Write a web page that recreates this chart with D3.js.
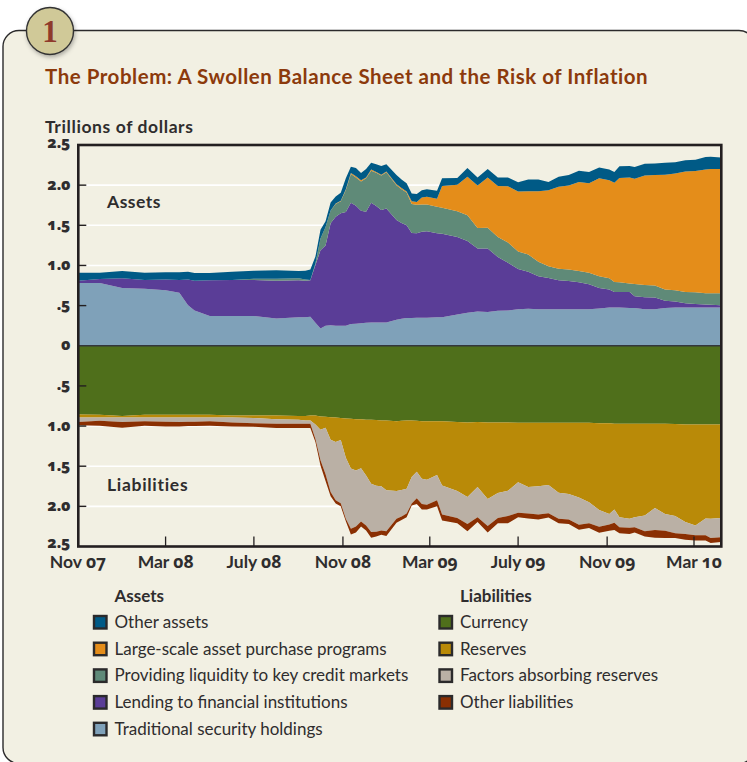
<!DOCTYPE html>
<html><head><meta charset="utf-8">
<script src="https://cdn.jsdelivr.net/npm/d3@7"></script>
<style>
html,body{margin:0;padding:0;background:#fff}
svg{display:block}
text{font-family:Lato,"Open Sans",sans-serif;fill:#2f2d2e}
tspan.n,text.n{font-family:"Open Sans",sans-serif;font-variant-numeric:oldstyle-nums;font-feature-settings:"onum" 1}
</style></head><body><div id="c"></div>
<script>
const dates=["2007-11-01","2007-12-01","2008-01-01","2008-02-01","2008-03-01","2008-03-20","2008-04-01","2008-04-10","2008-05-01","2008-06-01","2008-07-01","2008-08-01","2008-09-01","2008-09-10","2008-09-17","2008-09-24","2008-10-01","2008-10-08","2008-10-15","2008-10-22","2008-10-29","2008-11-05","2008-11-12","2008-11-19","2008-11-26","2008-12-03","2008-12-10","2008-12-17","2008-12-24","2008-12-31","2009-01-14","2009-01-21","2009-01-28","2009-02-04","2009-02-11","2009-02-18","2009-02-25","2009-03-11","2009-03-18","2009-04-08","2009-04-22","2009-05-06","2009-05-20","2009-06-03","2009-06-17","2009-07-01","2009-07-15","2009-07-29","2009-08-12","2009-08-26","2009-09-09","2009-09-23","2009-10-07","2009-10-21","2009-11-04","2009-11-11","2009-11-18","2009-12-02","2009-12-09","2009-12-23","2010-01-06","2010-01-20","2010-02-03","2010-02-17","2010-03-03","2010-03-17","2010-03-24","2010-04-07"];
const traditional=[.78,.78,.72,.71,.69,.66,.505,.44,.37,.37,.37,.34,.355,.355,.36,.285,.215,.25,.255,.25,.25,.25,.27,.275,.28,.285,.29,.29,.29,.29,.325,.335,.345,.345,.35,.35,.35,.355,.355,.39,.41,.425,.42,.435,.44,.455,.46,.455,.455,.455,.455,.455,.455,.465,.475,.475,.475,.47,.47,.455,.455,.47,.475,.475,.475,.475,.475,.475];
const lending=[.03,.05,.12,.11,.135,.16,.32,.37,.447,.45,.45,.47,.46,.455,.455,.72,.975,1.0,1.27,1.355,1.4,1.415,1.51,1.47,1.4,1.385,1.49,1.45,1.4,1.42,1.24,1.195,1.155,1.06,1.05,1.07,1.075,1.045,1.04,.965,.895,.785,.79,.67,.595,.5,.46,.41,.39,.36,.35,.335,.31,.255,.225,.195,.195,.2,.145,.15,.145,.09,.075,.055,.045,.04,.035,.03];
const liquidity=[0,0,0,0,0,0,0,0,0,0,.015,.025,.025,.015,.005,.02,.145,.23,.16,.16,.15,.275,.36,.35,.365,.415,.4,.415,.43,.45,.435,.42,.41,.36,.355,.34,.335,.33,.325,.32,.32,.255,.26,.25,.25,.22,.215,.18,.145,.145,.145,.14,.145,.145,.14,.125,.12,.105,.155,.15,.15,.14,.14,.14,.145,.14,.145,.15];
const purchases=[0,0,0,0,0,0,0,0,0,0,0,0,0,0,0,0,0,0,0,.005,.005,.01,.01,.015,.015,.01,.015,.01,.01,.01,.01,.015,.01,.035,.035,.085,.095,.1,.27,.33,.48,.53,.625,.635,.7,.745,.79,.88,.945,1.02,1.045,1.11,1.115,1.22,1.22,1.235,1.3,1.32,1.31,1.365,1.375,1.43,1.455,1.5,1.51,1.54,1.545,1.545];
const otherAssets=[.1,.08,.09,.09,.09,.095,.095,.095,.09,.1,.1,.105,.09,.11,.13,.085,.11,.07,.1,.09,.1,.135,.08,.105,.09,.105,.085,.095,.11,.09,.115,.105,.105,.095,.1,.09,.095,.1,.095,.085,.11,.1,.105,.105,.11,.115,.145,.145,.105,.125,.13,.14,.14,.135,.135,.135,.145,.145,.145,.145,.145,.15,.14,.14,.14,.155,.155,.145];
const currency=[.855,.86,.875,.86,.86,.86,.86,.86,.86,.87,.87,.87,.875,.875,.87,.87,.88,.885,.89,.895,.9,.905,.91,.915,.915,.92,.92,.925,.93,.93,.94,.935,.93,.93,.935,.94,.94,.94,.94,.95,.955,.95,.955,.955,.955,.96,.96,.96,.96,.96,.96,.96,.96,.965,.965,.97,.97,.97,.97,.97,.97,.97,.975,.98,.98,.98,.98,.98];
const reserves=[.04,.035,.02,.035,.035,.035,.035,.035,.035,.025,.03,.045,.045,.055,.06,.11,.165,.135,.28,.305,.275,.49,.62,.64,.61,.695,.8,.82,.82,.87,.87,.86,.85,.705,.635,.715,.73,.67,.8,.86,.93,.81,.955,.88,.85,.74,.8,.79,.775,.87,.885,.93,.99,1.08,1.13,1.07,1.165,1.185,1.165,1.145,1.05,1.125,1.145,1.215,1.26,1.17,1.175,1.165];
const absorbing=[.055,.04,.055,.045,.05,.055,.05,.05,.045,.06,.065,.055,.05,.04,.04,.18,.38,.58,.65,.725,.785,.76,.75,.695,.665,.625,.6,.57,.55,.51,.345,.33,.31,.33,.33,.315,.31,.315,.36,.335,.335,.375,.335,.31,.315,.38,.33,.35,.35,.325,.32,.34,.26,.21,.13,.165,.125,.11,.125,.195,.275,.21,.215,.15,.12,.21,.24,.24];
const otherLiab=[.04,.06,.07,.055,.06,.055,.055,.055,.055,.05,.045,.055,.055,.055,.055,.04,.065,.085,.055,.04,.04,.03,.07,.075,.06,.06,.07,.06,.055,.06,.05,.045,.045,.025,.07,.07,.06,.075,.075,.065,.09,.06,.08,.065,.09,.055,.06,.065,.055,.055,.055,.06,.06,.075,.08,.09,.075,.08,.065,.065,.095,.09,.06,.07,.065,.065,.06,.06];

const assetNames=["Other assets","Large-scale asset purchase programs","Providing liquidity to key credit markets","Lending to financial institutions","Traditional security holdings"];
const assetValues=[otherAssets,purchases,liquidity,lending,traditional];
const assetColors=["#005a86","#e48d1a","#5f8a78","#5a3d97","#7fa1b9"];
const liabNames=["Currency","Reserves","Factors absorbing reserves","Other liabilities"];
const liabValues=[currency,reserves,absorbing,otherLiab];
const liabColors=["#4f6f1b","#b98a08","#bab0a5","#8a2f02"];
const yTicks=[2.5,2,1.5,1,.5,0,-.5,-1,-1.5,-2,-2.5];
const xTicks=[["2007-11-01","Nov ","07"],["2008-03-01","Mar ","08"],["2008-07-01","July ","08"],["2008-11-01","Nov ","08"],["2009-03-01","Mar ","09"],["2009-07-01","July ","09"],["2009-11-01","Nov ","09"],["2010-03-01","Mar ","10"]];

const W=747,H=762,L=78.3,R=721.3,T=145,B=546.5;
const svg=d3.select("#c").append("svg").attr("width",W).attr("height",H);
const defs=svg.append("defs");
defs.append("clipPath").attr("id","plot").append("rect").attr("x",L).attr("y",T).attr("width",R-L).attr("height",B-T);
const f=defs.append("filter").attr("id","sh").attr("x","-30%").attr("y","-30%").attr("width","160%").attr("height","160%");
f.append("feDropShadow").attr("dx",1).attr("dy",2).attr("stdDeviation",2).attr("flood-color","#000").attr("flood-opacity",.3);

svg.append("rect").attr("x",3).attr("y",30.5).attr("width",752).attr("height",733).attr("rx",16).attr("fill","#f2f0e3").attr("stroke","#2b2a2b").attr("stroke-width",1.4);
svg.append("circle").attr("cx",50).attr("cy",31).attr("r",23.5).attr("fill","#d0c998").attr("stroke","#333").attr("stroke-width",1.4).attr("filter","url(#sh)");
svg.append("text").attr("x",50).attr("y",42).attr("text-anchor","middle").attr("font-size",31).attr("font-weight",700).style("font-family","'Liberation Serif',serif").style("fill","#8f3a2b").text("1");
svg.append("text").attr("x",45).attr("y",84).attr("font-size",20.5).attr("font-weight",700).attr("letter-spacing",.52).style("fill","#8c3a0c").text("The Problem: A Swollen Balance Sheet and the Risk of Inflation");
svg.append("text").attr("x",45).attr("y",133).attr("font-size",17.5).attr("font-weight",700).attr("letter-spacing",.6).text("Trillions of dollars");

const parse=d3.utcParse("%Y-%m-%d");
const x=d3.scaleUtc().domain([parse("2007-11-01"),parse("2010-03-01")]).range([78,694]);
const y=d3.scaleLinear().domain([2.5,-2.5]).range([T,B]);
const rows=dates.map((d,i)=>{const o={date:parse(d)};
  assetNames.forEach((n,k)=>o[n]=assetValues[k][i]);
  liabNames.forEach((n,k)=>o[n]=liabValues[k][i]);return o;});

const grid=svg.append("g");
yTicks.filter(v=>Math.abs(v)<2.5&&v!==0).forEach(v=>grid.append("line").attr("x1",L+7).attr("x2",R).attr("y1",y(v)).attr("y2",y(v)).attr("stroke","#fff").attr("stroke-width",1.6));

const marks=svg.append("g").attr("clip-path","url(#plot)");
const assetStack=d3.stack().keys([...assetNames].reverse())(rows);
assetStack.forEach(s=>{
  const c=assetColors[assetNames.indexOf(s.key)];
  marks.append("path").datum(s).attr("fill",c).attr("d",d3.area().x(d=>x(d.data.date)).y0(d=>y(d[0])).y1(d=>y(d[1])));
});
const liabStack=d3.stack().keys(liabNames)(rows);
liabStack.forEach(s=>{
  const c=liabColors[liabNames.indexOf(s.key)];
  marks.append("path").datum(s).attr("fill",c).attr("d",d3.area().x(d=>x(d.data.date)).y0(d=>y(-d[0])).y1(d=>y(-d[1])));
});

svg.append("line").attr("x1",L).attr("x2",R).attr("y1",y(0)).attr("y2",y(0)).attr("stroke","#33363c").attr("stroke-width",1.6);
svg.append("rect").attr("x",L).attr("y",T).attr("width",R-L).attr("height",B-T).attr("fill","none").attr("stroke","#231f20").attr("stroke-width",2.6);

const axis=svg.append("g");
yTicks.forEach(v=>{
  if(Math.abs(v)<2.5&&v!==0) axis.append("line").attr("x1",L).attr("x2",L+8).attr("y1",y(v)).attr("y2",y(v)).attr("stroke","#231f20").attr("stroke-width",1.4);
  const a=Math.abs(v);
  const t=v===0?"0":a===.5?".5":a.toFixed(1);
  axis.append("text").attr("class","n").attr("x",70.5).attr("y",y(v)+(v===2.5?3:v===-2.5?1:4.5)).attr("text-anchor","end").attr("font-size",15.5).attr("font-weight",800).text(t);
});
xTicks.forEach(([d,label,yr],i)=>{
  const px=x(parse(d));
  if(i>0) axis.append("line").attr("x1",px).attr("x2",px).attr("y1",B-10).attr("y2",B).attr("stroke","#231f20").attr("stroke-width",1.3);
  const t=axis.append("text").attr("x",px).attr("y",568).attr("text-anchor","middle").attr("font-size",17.5).attr("font-weight",700);
  t.append("tspan").text(label);
  t.append("tspan").attr("class","n").text(yr);
});
svg.append("text").attr("x",107).attr("y",208).attr("font-size",17.5).attr("font-weight",700).attr("letter-spacing",.5).text("Assets");
svg.append("text").attr("x",107).attr("y",491).attr("font-size",17.5).attr("font-weight",700).attr("letter-spacing",.7).text("Liabilities");

function legend(tx,title,names,colors){
  svg.append("text").attr("x",tx).attr("y",602).attr("font-size",17).attr("font-weight",700).text(title);
  names.forEach((n,i)=>{
    const cy=622+i*26.7;
    svg.append("rect").attr("x",tx-20.5).attr("y",cy-6).attr("width",12.5).attr("height",12.5).attr("fill",colors[i]).attr("stroke","#2b2a2b").attr("stroke-width",2.4);
    svg.append("text").attr("x",tx).attr("y",cy+6).attr("font-size",17).text(n);
  });
}
legend(114.5,"Assets",assetNames,assetColors);
legend(460,"Liabilities",liabNames,liabColors);
</script></body></html>
